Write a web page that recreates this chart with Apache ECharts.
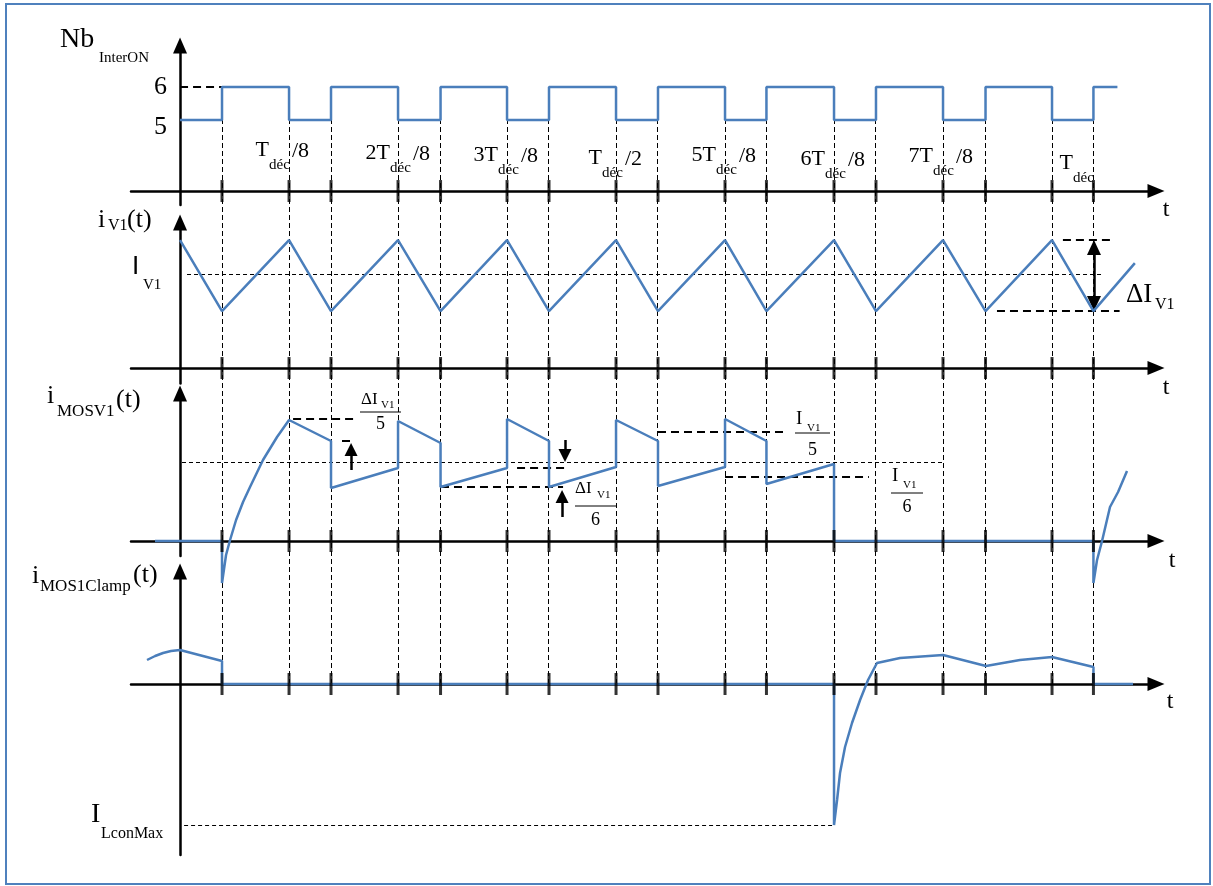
<!DOCTYPE html>
<html>
<head>
<meta charset="utf-8">
<script src="https://cdn.jsdelivr.net/npm/echarts@6/dist/echarts.min.js"></script>
<style>html,body{margin:0;padding:0;background:#fff}#c{width:1213px;height:886px}</style>
</head>
<body>
<div id="c"></div>
<script>
// ---------------- data (time in units of T_dec/8) ----------------
const SWITCH_T = [0.385, 1, 1.385, 2, 2.39, 3, 3.385, 4, 4.385, 5, 5.38, 6, 6.385, 7, 7.39, 8, 8.38];

const NB_T = [0, 0.385, 1, 1.385, 2, 2.39, 3, 3.385, 4, 4.385, 5, 5.38, 6, 6.385, 7, 7.39, 8, 8.38, 8.6];
const NB_V = [5, 6, 5, 6, 5, 6, 5, 6, 5, 6, 5, 6, 5, 6, 5, 6, 5, 6, 6];
const NB_TICKS = [5, 6];
const NB_REF_T = [0, 0.385];
const NB_AXIS_LEVEL = 2.85;

const IV1_T = [0, 0.385, 1, 1.385, 2, 2.39, 3, 3.385, 4, 4.385, 5, 5.38, 6, 6.385, 7, 7.39, 8, 8.38, 8.76];
const IV1_V = [10, 4.45, 10, 4.45, 10, 4.45, 10, 4.45, 10, 4.45, 10, 4.45, 10, 4.45, 10, 4.45, 10, 4.45, 8.2];
const IV1_MEAN = 7.3;

const IMOS_T = [-0.23, 0.385, 0.385, 0.422, 0.459, 0.514, 0.578, 0.642, 0.761, 0.89, 1,
  1.385, 1.385, 2, 2, 2.39, 2.39, 3, 3, 3.385, 3.385, 4, 4, 4.385, 4.385, 5, 5, 5.38, 5.38, 6, 6,
  8.38, 8.38, 8.413, 8.459, 8.532, 8.606, 8.688];
const IMOS_V = [0, 0, -4.2, -1.4, 0.1, 2.1, 3.9, 5.4, 8.1, 10.4, 12.1,
  10.0, 5.3, 7.3, 12.0, 9.8, 5.4, 7.3, 12.2, 10.0, 5.4, 7.4, 12.1, 10.0, 5.5, 7.4, 12.2, 10.0, 5.7, 7.7, 0,
  0, -4.2, -1.9, 0.0, 3.4, 4.9, 7.0];
const IMOS_MEAN = 7.9;

const ICL_T = [-0.303, -0.229, -0.156, -0.083, 0, 0.385, 0.385, 6, 6, 6.028, 6.055, 6.101, 6.165, 6.239, 6.312, 6.394,
  6.606, 7, 7.394, 7.706, 8, 8.38, 8.38, 8.743];
const ICL_V = [2.4, 2.8, 3.1, 3.3, 3.4, 2.3, 0, 0, -14.1, -11.6, -8.9, -6.3, -3.9, -1.6, 0.4, 2.1,
  2.6, 2.9, 1.8, 2.4, 2.7, 1.7, 0, 0];
const ILCON_MAX = -14.1;

// ---------------- layout ----------------
const T_MIN = -0.45, T_MAX = 8.954;
const GRIDS = [
  {top: 45.5, height: 159.4},
  {top: 222.5, height: 160.9},
  {top: 393.5, height: 162.5},
  {top: 571.5, height: 283.5},
  {top: 120, height: 564}
];
const Y_RANGES = [[2.43, 7.26], [-1.2, 11.37], [-1.5, 14.75], [-17.1, 11.25], [0, 1]];

const BLUE = '#4a7ebb';
const FONT = '"Liberation Serif", "Times New Roman", serif';
const zip = (a, b) => a.map((v, i) => [v, b[i]]);

const DASH_THICK = {color: '#000', width: 2, type: [8, 5]};
const DASH_THIN = {color: '#000', width: 1, type: [4, 3]};
function seg(t1, t2, y, style) { return [{coord: [t1, y], lineStyle: style}, {coord: [t2, y]}]; }
function arrow(t, y1, y2, size, both) {
  return [{coord: [t, y1], symbol: both ? 'triangle' : 'none', symbolSize: size, lineStyle: {color: '#000', width: 2.5, type: 'solid'}},
          {coord: [t, y2], symbol: 'triangle', symbolSize: size}];
}
function marks(items) {
  return {silent: true, animation: false, symbol: ['none', 'none'], label: {show: false},
          emphasis: {disabled: true}, data: items};
}
function wave(i, data, extra) {
  return Object.assign({type: 'line', xAxisIndex: i, yAxisIndex: i, data: data, symbol: 'none', clip: false,
    lineStyle: {color: BLUE, width: 2.5}, itemStyle: {color: BLUE}, z: 5, silent: true}, extra || {});
}
function ticks(i, level) {
  return {type: 'scatter', xAxisIndex: i, yAxisIndex: i, data: SWITCH_T.map(t => [t, level]),
    symbol: 'rect', symbolSize: [3, 22], itemStyle: {color: '#000'}, z: 8, silent: true, clip: false};
}

const xAxes = GRIDS.map((g, i) => ({
  type: 'value', gridIndex: i, min: T_MIN, max: T_MAX, show: i < 4,
  position: 'bottom', offset: i === 0 ? -14 : 0,
  axisLine: {show: true, onZero: i !== 0, symbol: ['none', 'triangle'], symbolSize: [14, 17],
             lineStyle: {color: '#000', width: 2.5}},
  axisTick: {show: false}, axisLabel: {show: false}, splitLine: {show: false}
}));
const yAxes = Y_RANGES.map((r, i) => ({
  type: 'value', gridIndex: i, min: r[0], max: r[1], show: i < 4,
  axisLine: {show: true, onZero: true, symbol: ['none', 'triangle'], symbolSize: [14, 16],
             lineStyle: {color: '#000', width: 2.5}},
  axisTick: {show: false}, splitLine: {show: false},
  axisLabel: i === 0 ? {
    show: true, customValues: NB_TICKS, margin: -36, color: '#000',
    fontFamily: FONT, fontSize: 26,
    formatter: v => (v === 5 ? '{lo|' + v + '}' : '{n|' + v + '}'),
    rich: {lo: {fontFamily: FONT, fontSize: 26, color: '#000', padding: [14, 0, 0, 0]},
           n: {fontFamily: FONT, fontSize: 26, color: '#000'}}
  } : {show: false}
}));

const series = [
  // vertical dashed switching instants
  {type: 'line', xAxisIndex: 4, yAxisIndex: 4, data: [], symbol: 'none', z: 1, silent: true,
   markLine: {silent: true, animation: false, symbol: ['none', 'none'], label: {show: false},
     lineStyle: {color: '#000', width: 1, type: [5, 3]}, data: SWITCH_T.map(t => ({xAxis: t}))}},
  // panel 1
  wave(0, zip(NB_T, NB_V), {step: 'end'}),
  {type: 'line', xAxisIndex: 0, yAxisIndex: 0, data: NB_REF_T.map(t => [t, 6]), symbol: 'none',
   lineStyle: {color: '#000', width: 2, type: [8, 5]}, z: 4, silent: true},
  ticks(0, NB_AXIS_LEVEL),
  // panel 2
  wave(1, zip(IV1_T, IV1_V), {markLine: marks([
    seg(0.064, 8.47, IV1_MEAN, DASH_THIN),
    seg(8.10, 8.54, 10, DASH_THICK),
    seg(7.495, 8.62, 4.45, DASH_THICK),
    arrow(8.385, 5.04, 9.41, [14, 15], true)
  ])}),
  ticks(1, 0),
  // panel 3
  wave(2, zip(IMOS_T, IMOS_V), {markLine: marks([
    seg(0.018, 7.0, IMOS_MEAN, DASH_THIN),
    seg(1.037, 1.624, 12.2, DASH_THICK),
    seg(1.486, 1.57, 10.0, DASH_THICK),
    seg(3.092, 3.541, 7.3, DASH_THICK),
    seg(2.394, 3.514, 5.4, DASH_THICK),
    seg(4.385, 5.55, 10.9, DASH_THICK),
    seg(5.0, 6.32, 6.4, DASH_THICK),
    arrow(1.569, 14.8, 13.05, [13, 13]),
    arrow(1.569, 7.1, 9.15, [13, 13]),
    arrow(3.532, 10.1, 8.55, [13, 13]),
    arrow(3.505, 2.4, 4.45, [13, 13])
  ])}),
  ticks(2, 0),
  // panel 4
  wave(3, zip(ICL_T, ICL_V), {markLine: marks([
    seg(0.037, 6, ILCON_MAX, DASH_THIN)
  ])}),
  ticks(3, 0)
];

// ---------------- text labels ----------------
function txt(x, y, s, size, align, family) {
  const f = size + 'px ' + (family || FONT);
  return {type: 'text', x: x, y: y, z: 100, silent: true,
    style: {text: s, font: f, fill: '#000', align: align || 'left', textAlign: align || 'left',
            verticalAlign: 'middle', textVerticalAlign: 'middle'}};
}
const DEC_LABELS = [
  ['T', 269, 150, '/8'], ['2T', 390, 153, '/8'], ['3T', 498, 155, '/8'], ['T', 602, 158, '/2'],
  ['5T', 716, 155, '/8'], ['6T', 825, 159, '/8'], ['7T', 933, 156, '/8'], ['T', 1073, 163, '']
];
const g = [];
g.push({type: 'rect', shape: {x: 6, y: 4, width: 1204, height: 880}, style: {fill: 'none', stroke: '#4f81bd', lineWidth: 2}, z: 0, silent: true});
g.push(txt(60, 40, 'Nb', 28), txt(99, 58, 'InterON', 15));
DEC_LABELS.forEach(d => {
  g.push(txt(d[1], d[2], d[0], 22, 'right'));
  g.push(txt(d[1], d[2] + 15, 'déc', 15));
  if (d[3]) g.push(txt(d[1] + 23, d[2] + 1, d[3], 22));
});
// axis "t" names
g.push(txt(1166, 210, 't', 24, 'center'), txt(1166, 388, 't', 24, 'center'),
       txt(1172, 561, 't', 24, 'center'), txt(1170, 702, 't', 24, 'center'));
// panel names
g.push(txt(98, 220, 'i', 26), txt(108, 226, 'V1', 16), txt(127, 220, '(t)', 26));
g.push(txt(132, 267, 'I', 26, 'left', '"Liberation Sans", sans-serif'), txt(143, 285, 'V1', 15));
g.push(txt(47, 396, 'i', 26), txt(57, 412, 'MOSV1', 17), txt(116, 400, '(t)', 26));
g.push(txt(32, 576, 'i', 26), txt(40, 587, 'MOS1Clamp', 17), txt(133, 575, '(t)', 26));
g.push(txt(91, 815, 'I', 28), txt(101, 834, 'LconMax', 16));
// ΔI_V1 right
g.push(txt(1126, 295, 'ΔI', 27), txt(1155, 305, 'V1', 16));
// fractions
function frac(xl, xr, yline, numX, numY, numSize, subX, subY, den, denY) {
  g.push(txt(numX, numY, numSize[0], numSize[1]));
  g.push(txt(subX, subY, 'V1', 11));
  g.push({type: 'line', shape: {x1: xl, y1: yline, x2: xr, y2: yline}, style: {stroke: '#000', lineWidth: 1}, z: 100, silent: true});
  g.push(txt((xl + xr) / 2, denY, den, 18, 'center'));
}
frac(360, 401, 412, 361, 400, ['ΔI', 17], 381, 405, '5', 424);
frac(575, 616, 506, 575, 489, ['ΔI', 17], 597, 495, '6', 520);
frac(795, 830, 433, 796, 419, ['I', 19], 807, 428, '5', 450);
frac(891, 923, 493, 892, 476, ['I', 19], 903, 485, '6', 507);

const chart = echarts.init(document.getElementById('c'));
chart.setOption({
  animation: false,
  backgroundColor: '#fff',
  grid: GRIDS.map(gr => ({left: 131, right: 57, top: gr.top, height: gr.height, containLabel: false, outerBoundsMode: 'none'})),
  xAxis: xAxes,
  yAxis: yAxes,
  series: series,
  graphic: {elements: g}
});
</script>
</body>
</html>
